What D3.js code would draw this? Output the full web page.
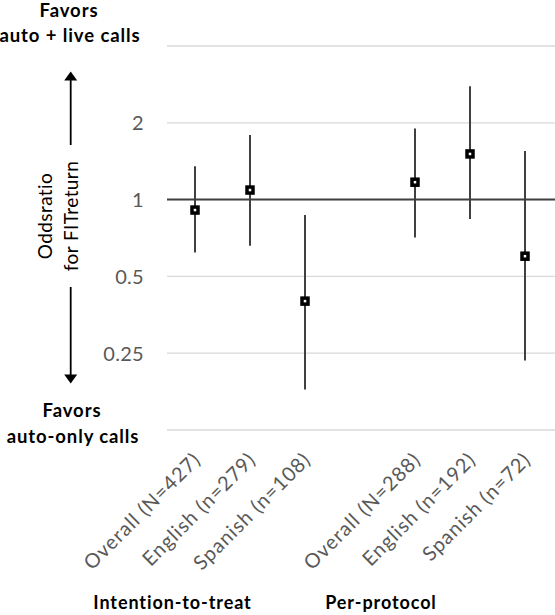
<!DOCTYPE html>
<html>
<head>
<meta charset="utf-8">
<script src="https://cdn.jsdelivr.net/npm/d3@7"></script>
<style>
  html, body { margin: 0; padding: 0; background: #fff; }
  svg { display: block; }
  text { font-family: Lato, "Open Sans", sans-serif; }
</style>
</head>
<body>
<svg id="chart" width="555" height="615"></svg>
<script>
// ---- data ----
const categories = ["Overall (N=427)", "English (n=279)", "Spanish (n=108)", "Overall (N=288)", "English (n=192)", "Spanish (n=72)"];
const groups = ["ITT", "ITT", "ITT", "PP", "PP", "PP"];
const oddsRatio = [0.91, 1.09, 0.40, 1.17, 1.51, 0.60];
const ciLow = [0.62, 0.66, 0.18, 0.71, 0.84, 0.234];
const ciHigh = [1.35, 1.79, 0.87, 1.90, 2.78, 1.55];
const gridValues = [0.125, 0.25, 0.5, 1, 2, 4];
const tickLabels = [0.25, 0.5, 1, 2];
const groupLabels = ["Intention-to-treat", "Per-protocol"];

const svg = d3.select("#chart");

// slots: 3 ITT, gap, 3 PP
const slots = ["c0", "c1", "c2", "gap", "c3", "c4", "c5"];
const x = d3.scaleBand().domain(slots).range([167.5, 552.5]).padding(0);
const cx = i => x("c" + i) + x.bandwidth() / 2;

const y = d3.scaleLog().base(2).domain([0.125, 4]).range([430, 46]);

// gridlines
svg.append("g").selectAll("line").data(gridValues).join("line")
  .attr("x1", 167).attr("x2", 555)
  .attr("y1", d => y(d)).attr("y2", d => y(d))
  .attr("stroke", "#d9d9d9").attr("stroke-width", 1.3);

// reference line at 1
svg.append("line")
  .attr("x1", 167).attr("x2", 555)
  .attr("y1", y(1)).attr("y2", y(1))
  .attr("stroke", "#404040").attr("stroke-width", 2);

// y tick labels
const yAxis = d3.axisLeft(y).tickValues(tickLabels).tickFormat(d => String(d)).tickSize(0).tickPadding(0);
const ya = svg.append("g").attr("transform", "translate(144,0)").call(yAxis);
ya.select(".domain").remove();
ya.selectAll("text")
  .attr("font-family", "Lato, sans-serif")
  .attr("font-size", 20)
  .attr("letter-spacing", 0.3)
  .attr("fill", "#595959")
  .attr("dy", "0.35em");

// error bars
const idx = d3.range(categories.length);
svg.append("g").selectAll("line").data(idx).join("line")
  .attr("x1", i => cx(i)).attr("x2", i => cx(i))
  .attr("y1", i => y(ciHigh[i])).attr("y2", i => y(ciLow[i]))
  .attr("stroke", "#404040").attr("stroke-width", 2);

// markers
svg.append("g").selectAll("rect").data(idx).join("rect")
  .attr("x", i => cx(i) - 3).attr("y", i => y(oddsRatio[i]) - 3)
  .attr("width", 6).attr("height", 6)
  .attr("fill", "#fff").attr("stroke", "#000").attr("stroke-width", 3.5);

// x labels (rotated)
svg.append("g").selectAll("text").data(idx).join("text")
  .attr("transform", i => `translate(${cx(i) + 7},${461}) rotate(-45)`)
  .attr("text-anchor", "end")
  .attr("font-size", 20)
  .attr("letter-spacing", 1.0)
  .attr("fill", "#595959")
  .text(i => categories[i]);

// group labels
svg.append("text").attr("x", 172.5).attr("y", 609).attr("text-anchor", "middle")
  .attr("font-size", 18).attr("letter-spacing", 0.9).attr("font-weight", "bold").attr("fill", "#000")
  .text(groupLabels[0]);
svg.append("text").attr("x", 381).attr("y", 609).attr("text-anchor", "middle")
  .attr("font-size", 18).attr("letter-spacing", 0.9).attr("font-weight", "bold").attr("fill", "#000")
  .text(groupLabels[1]);

// "Favors" labels
const fav = [
  { t: "Favors", x: 69, y: 17 },
  { t: "auto + live calls", x: 70, y: 42 },
  { t: "Favors", x: 72, y: 417 },
  { t: "auto-only calls", x: 73, y: 443 }
];
svg.append("g").selectAll("text").data(fav).join("text")
  .attr("x", d => d.x).attr("y", d => d.y)
  .attr("text-anchor", "middle")
  .attr("font-size", 18.5).attr("letter-spacing", 0.9).attr("font-weight", "bold").attr("fill", "#000")
  .text(d => d.t);

// arrows
const ax = 70.7;
svg.append("line").attr("x1", ax).attr("x2", ax).attr("y1", 145).attr("y2", 79)
  .attr("stroke", "#000").attr("stroke-width", 1.8);
svg.append("path").attr("d", `M${ax},71.5 L${ax - 6.5},80.5 L${ax + 6.5},80.5 Z`).attr("fill", "#000");
svg.append("line").attr("x1", ax).attr("x2", ax).attr("y1", 287).attr("y2", 376)
  .attr("stroke", "#000").attr("stroke-width", 1.8);
svg.append("path").attr("d", `M${ax},383.5 L${ax - 6.5},374.5 L${ax + 6.5},374.5 Z`).attr("fill", "#000");

// y title
const yt = svg.append("text").attr("transform", "translate(0,216) rotate(-90)")
  .attr("text-anchor", "middle").attr("font-size", 19).attr("letter-spacing", 0.4).attr("fill", "#000");
yt.append("tspan").attr("x", 0).attr("y", 52).text("Oddsratio");
yt.append("tspan").attr("x", 0).attr("y", 78).text("for FITreturn");
</script>
</body>
</html>
